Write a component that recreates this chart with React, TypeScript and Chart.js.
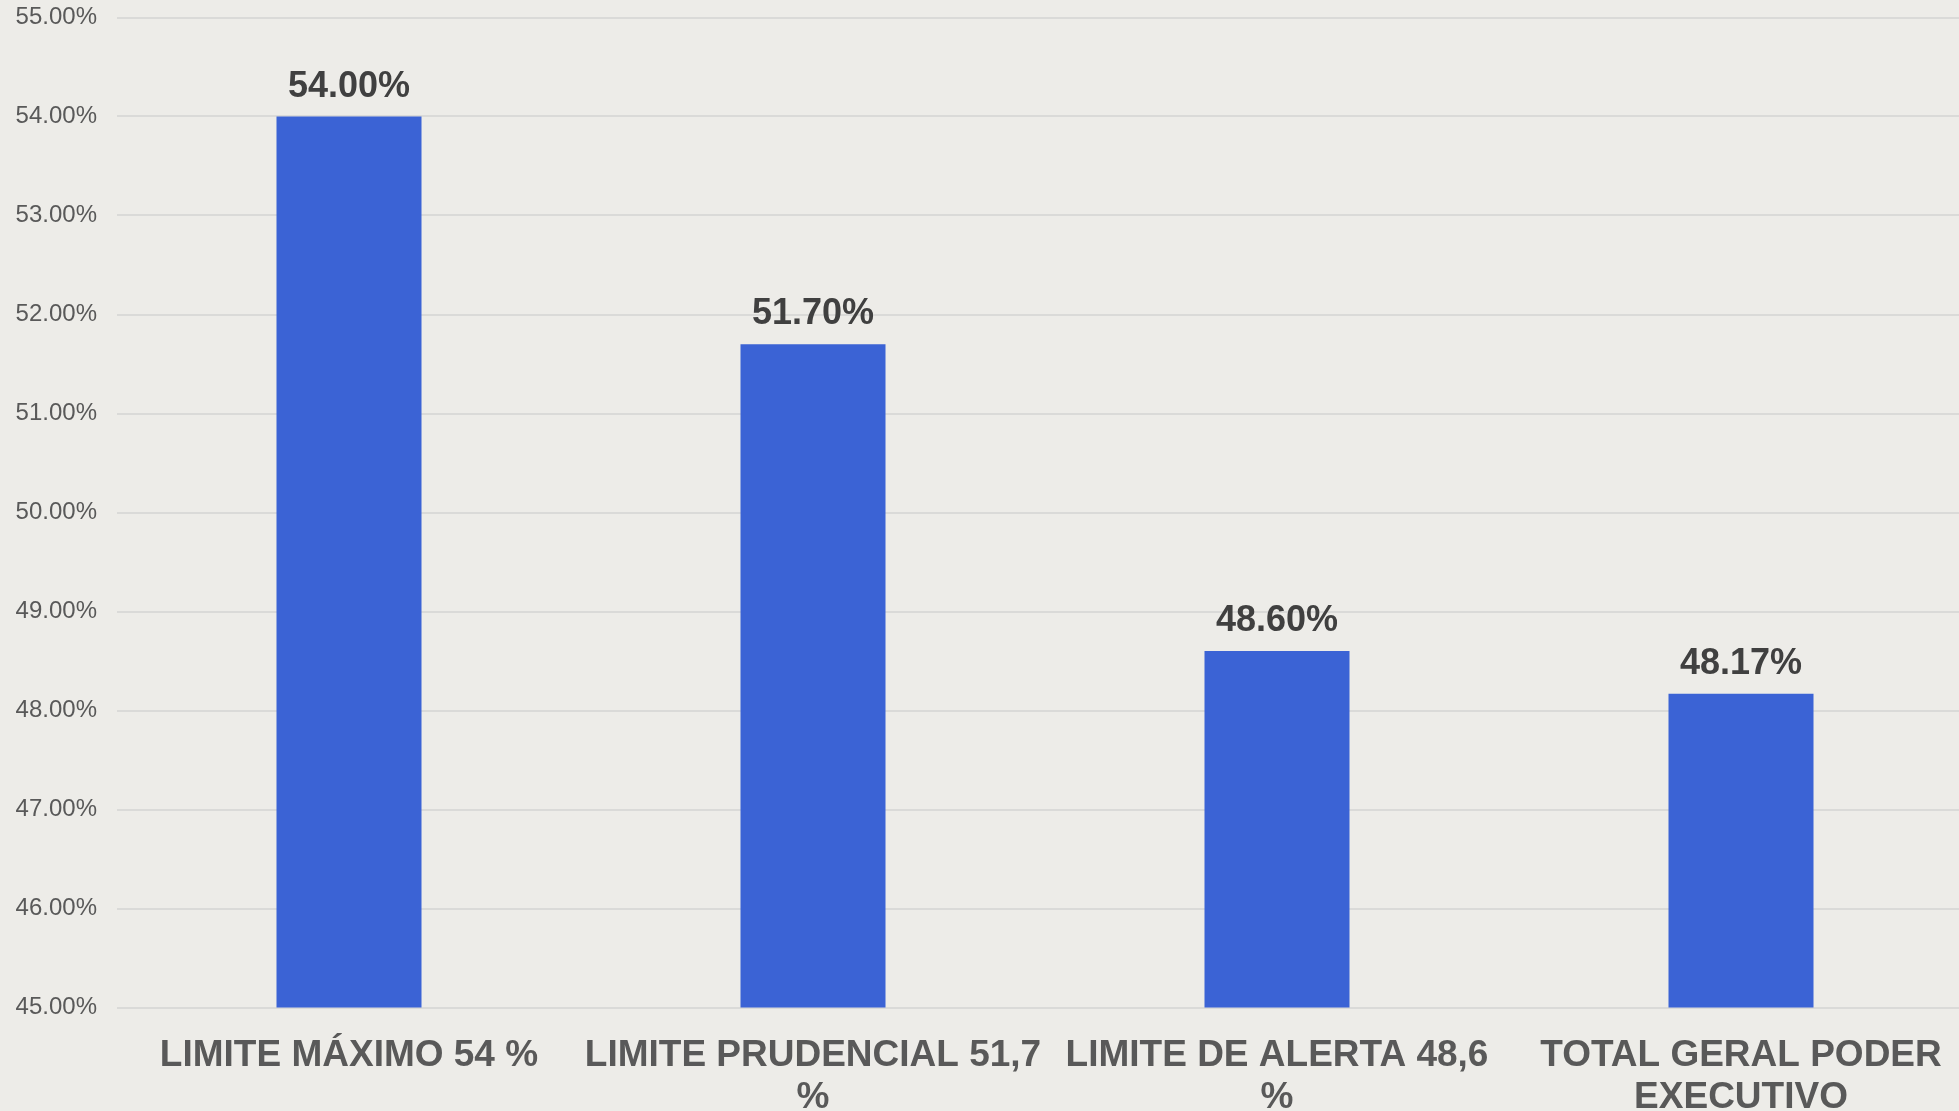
import React, { useEffect, useRef } from "react";
import { Chart, registerables } from "chart.js";

Chart.register(...registerables);

const categories: string[][] = [
  ["LIMITE MÁXIMO 54 %"],
  ["LIMITE PRUDENCIAL 51,7", "%"],
  ["LIMITE DE ALERTA 48,6", "%"],
  ["TOTAL GERAL PODER", "EXECUTIVO"],
];
const values: number[] = [54.0, 51.7, 48.6, 48.17];
const yMin = 45;
const yMax = 55;
const yStep = 1;

const FONT = "'Liberation Sans', Arial, Helvetica, sans-serif";
const BG = "#EDECE8";

const dataLabelPlugin = {
  id: "dataLabels",
  afterDatasetsDraw(chart: any) {
    const ctx = chart.ctx;
    const meta = chart.getDatasetMeta(0);
    ctx.save();
    ctx.font = `bold 36px ${FONT}`;
    ctx.fillStyle = "#404040";
    ctx.textAlign = "center";
    ctx.textBaseline = "alphabetic";
    meta.data.forEach((bar: any, i: number) => {
      const v = chart.data.datasets[0].data[i] as number;
      ctx.fillText(v.toFixed(2) + "%", bar.x, bar.y - 20);
    });
    ctx.restore();
  },
};

export default function App() {
  const ref = useRef<HTMLCanvasElement | null>(null);

  useEffect(() => {
    document.body.style.margin = "0";
    document.body.style.background = BG;
    const canvas = ref.current;
    if (!canvas) return;
    const chart = new Chart(canvas, {
      type: "bar",
      data: {
        labels: categories,
        datasets: [
          {
            data: values,
            backgroundColor: "#3B63D5",
            borderWidth: 0,
            categoryPercentage: 1,
            barPercentage: 0.3125,
          },
        ],
      },
      options: {
        responsive: false,
        animation: false,
        layout: { padding: { top: 17.5, left: 0, right: 0, bottom: 0 } },
        plugins: {
          legend: { display: false },
          tooltip: { enabled: false },
        },
        scales: {
          x: {
            grid: { display: false, drawTicks: false },
            border: { display: false },
            ticks: {
              autoSkip: false,
              maxRotation: 0,
              minRotation: 0,
              padding: 27,
              color: "#595959",
              font: { family: FONT, size: 37, weight: "bold", lineHeight: "42px" },
            },
            afterFit(scale: any) {
              scale.height = 103.5;
            },
          },
          y: {
            min: yMin,
            max: yMax,
            grid: { color: "#DADAD8", lineWidth: 2, drawTicks: false },
            border: { display: false },
            ticks: {
              stepSize: yStep,
              padding: 20,
              color: "#595959",
              font: { family: FONT, size: 24 },
              callback: (v: any) => Number(v).toFixed(2) + "%",
            },
            afterFit(scale: any) {
              scale.width = 117;
              scale.paddingTop = 0;
              scale.paddingBottom = 0;
            },
          },
        },
      },
      plugins: [dataLabelPlugin],
    });
    return () => chart.destroy();
  }, []);

  return (
    <div style={{ width: 1959, height: 1111, overflow: "hidden", background: BG }}>
      <canvas ref={ref} width={1973} height={1111} style={{ display: "block", width: 1973, height: 1111 }} />
    </div>
  );
}
